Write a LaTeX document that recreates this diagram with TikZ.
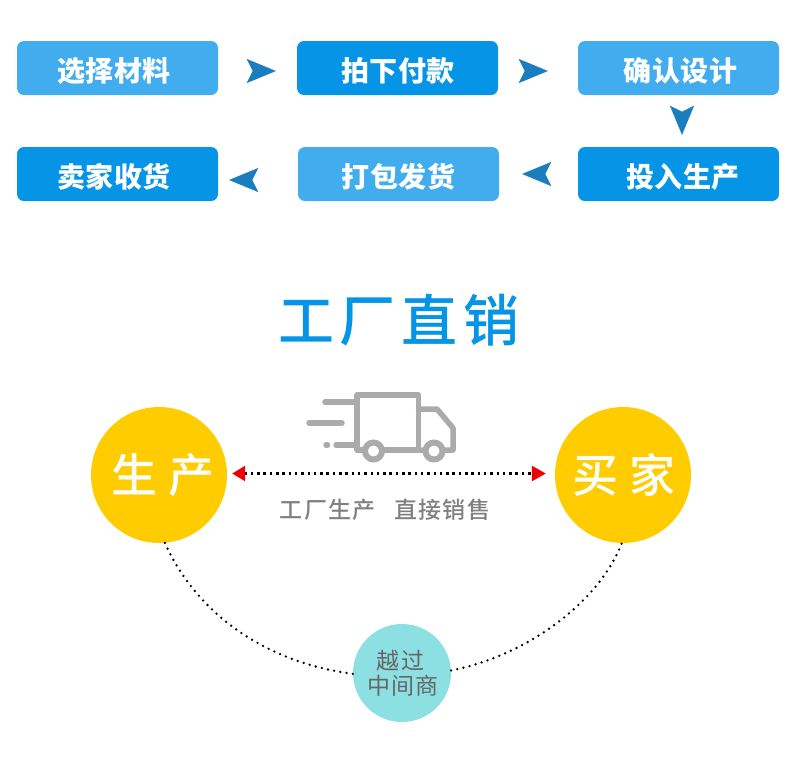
\documentclass[tikz,border=0pt]{standalone}
\usepackage{fontspec}
\usepackage{xcolor}
\usepackage{tikz}
\usetikzlibrary{positioning,calc,arrows.meta}
\newfontfamily\boxfont[LetterSpace=2]{Noto Sans CJK SC}
\newfontfamily\titlefont[LetterSpace=10.7]{Noto Sans CJK SC Medium}
\newfontfamily\circlefont[LetterSpace=24]{Noto Sans CJK SC Medium}
\newfontfamily\notefont[LetterSpace=5.6]{Noto Sans CJK SC Medium}
\newfontfamily\midfont[LetterSpace=5]{Noto Sans CJK SC}
\definecolor{stepLight}{HTML}{42ADEE}
\definecolor{stepDark}{HTML}{0594E6}
\definecolor{flowBlue}{HTML}{1A7DBE}
\definecolor{sunYellow}{HTML}{FFCC00}
\definecolor{midTeal}{HTML}{8DE0E2}
\definecolor{truckGray}{HTML}{ABABAB}
\definecolor{noteGray}{HTML}{808080}
\definecolor{midGray}{HTML}{666666}
\definecolor{tipRed}{HTML}{EE0000}

\begin{document}
\begin{tikzpicture}[
  x=1pt, y=-1pt,
  stepbox/.style={rectangle, rounded corners=7pt, minimum width=201pt, minimum height=54pt, inner sep=0pt,
    text height=27.5pt, text depth=1.5pt, text=white, font=\boxfont\fontsize{28}{28}\selectfont\bfseries},
  flowtip/.style={flowBlue, line width=0.1pt, -{Stealth[length=29pt, width=24pt, inset=6pt]}},
  bigcircle/.style={circle, fill=sunYellow, minimum size=136pt, inner sep=0pt, text=white,
    font=\circlefont\fontsize{46}{46}\selectfont},
  dotlink/.style={line width=2.5pt, dash pattern=on 2.5pt off 3.8pt},
  roundlink/.style={line width=2.6pt, line cap=round, dash pattern=on 0pt off 6.3pt},
  truckline/.style={draw=truckGray, line width=5.5pt, line cap=round, line join=round},
]
  \useasboundingbox (0,0) rectangle (790,756);

  \node[stepbox, fill=stepLight] (pick) at (117.5,68) {\hspace*{-7pt}选择材料};
  \node[stepbox, fill=stepDark] (pay) at (397.5,68) {\hspace*{1pt}拍下付款};
  \node[stepbox, fill=stepLight] (confirm) at (678.5,68) {\hspace*{4pt}确认设计};
  \node[stepbox, fill=stepDark] (make) at (678.5,174) {\hspace*{9pt}投入生产};
  \node[stepbox, fill=stepLight] (ship) at (398.5,174) {打包发货};
  \node[stepbox, fill=stepDark] (receive) at (117.5,174) {\hspace*{-7pt}卖家收货};

  \draw[flowtip, shorten <=36pt, shorten >=21pt] ([yshift=-3pt]pick.east) -- ([yshift=-3pt]pay.west);
  \draw[flowtip, shorten <=28pt, shorten >=30pt] ([yshift=-3pt]pay.east) -- ([yshift=-3pt]confirm.west);
  \draw[flowtip, shorten <=18pt, shorten >=12pt] ([xshift=3.5pt]confirm.south) -- ([xshift=3.5pt]make.north);
  \draw[flowtip, shorten <=35pt, shorten >=23pt] (make.west) -- (ship.east);
  \draw[flowtip, shorten <=47pt, shorten >=11pt] ([yshift=-6pt]ship.west) -- ([yshift=-6pt]receive.east);

  \node[text=stepDark, font=\titlefont\fontsize{56}{56}\selectfont] (title) at (399,320) {工厂直销};

  \draw[truckline] (325,402) -- (356,402);
  \draw[truckline] (309,423) -- (342,423);
  \draw[truckline] (326,445) -- (327.5,445);
  \draw[truckline] (336,445) -- (357,445);
  \draw[truckline] (357,450) -- (357,395) -- (418.5,395) -- (418.5,450) -- (357,450);
  \draw[truckline] (418.5,409) -- (437,409) -- (453,428) -- (453,450) -- (418.5,450);
  \draw[truckline, line width=6pt, fill=white] (373.5,451) circle (8.5pt);
  \draw[truckline, line width=6pt, fill=white] (434,451) circle (8.5pt);

  \node[bigcircle] (maker) at (159,475) {\hspace*{8pt}生产};
  \node[bigcircle] (buyer) at (623,475) {\hspace*{2pt}买家};
  \node[circle, fill=midTeal, minimum size=98pt, inner sep=0pt, align=center, text=midGray,
    font=\midfont\fontsize{23}{25}\selectfont] (middle) at (402,673) {\hspace*{-3pt}越过\\\hspace*{2pt}中间商};

  \draw[dotlink, {Triangle[color=tipRed, length=13pt, width=15pt]}-{Triangle[color=tipRed, length=14pt, width=15pt]},
    shorten <=5pt, shorten >=9pt] ([yshift=1.5pt]maker.east) -- ([yshift=1.5pt]buyer.west);
  \node[text=noteGray, font=\notefont\fontsize{23}{23}\selectfont] (note) at (385,509.5) {工厂生产\hspace{18.5pt}直接销售};

  \draw[roundlink] (middle.181) .. controls (250,660) and (190,600) .. (maker.-85);
  \draw[roundlink] (middle.3) .. controls (530,655) and (600,600) .. (buyer.-91);
\end{tikzpicture}
\end{document}
